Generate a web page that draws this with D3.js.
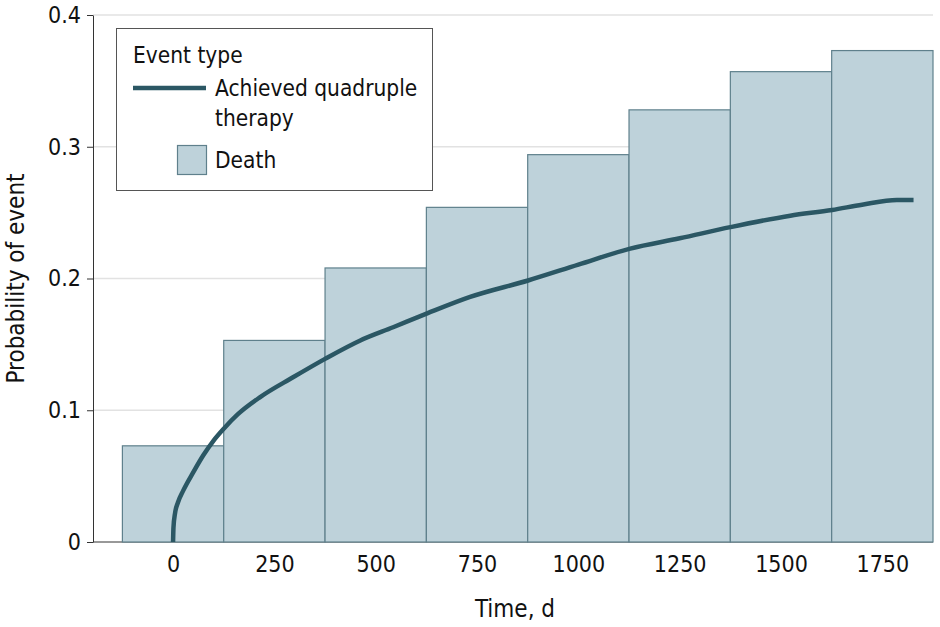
<!DOCTYPE html>
<html>
<head>
<meta charset="utf-8">
<script src="https://cdn.jsdelivr.net/npm/d3@7"></script>
<style>
  body { margin: 0; background: #fff; }
  text { font-family: "DejaVu Sans Condensed", "DejaVu Sans", sans-serif; fill: #111; }
</style>
</head>
<body>
<svg width="940" height="627"></svg>
<script>
// death probability per 250-day bin
const binDays = [0, 250, 500, 750, 1000, 1250, 1500, 1750];
const deathProb = [0.073, 0.153, 0.208, 0.254, 0.294, 0.328, 0.357, 0.373];

// cumulative incidence of quadruple therapy
const lineDays = [0, 1, 5, 12, 25, 50, 75, 100, 125, 160, 215, 296, 375, 462, 543, 627, 733, 876, 1000, 1128, 1250, 1375, 1523, 1626, 1700, 1786, 1827];
const lineProb = [0, 0.011, 0.022, 0.030, 0.039, 0.053, 0.066, 0.077, 0.086, 0.097, 0.110, 0.125, 0.139, 0.153, 0.163, 0.1735, 0.186, 0.1985, 0.2105, 0.2227, 0.2305, 0.239, 0.2477, 0.252, 0.256, 0.2596, 0.2596];

const xTicks = [0, 250, 500, 750, 1000, 1250, 1500, 1750];
const yTicks = [0, 0.1, 0.2, 0.3, 0.4];

const svg = d3.select('svg');
const plotL = 93, plotR = 933, plotT = 15, plotB = 542;

const x = d3.scaleLinear().domain([-200, 1875]).range([plotL - 1, plotR]);
const y = d3.scaleLinear().domain([0, 0.4]).range([plotB, plotT]);
const binW = 250;

// gridlines
svg.append('g').selectAll('line').data(yTicks.slice(1)).join('line')
    .attr('x1', plotL).attr('x2', plotR)
    .attr('y1', d => y(d)).attr('y2', d => y(d))
    .attr('stroke', '#e2e2e2').attr('stroke-width', 1.6);

// bottom axis (line only + labels)
const xAxis = svg.append('g').attr('transform', `translate(0,${plotB})`)
    .call(d3.axisBottom(x).tickValues(xTicks).tickSize(0).tickPadding(14).tickFormat(d3.format('d')));
xAxis.select('.domain').attr('stroke', '#333').attr('d', `M${plotL},0H${plotR}`);
xAxis.selectAll('text').attr('font-size', 23).attr('fill', '#111')
    .style('font-family', '"DejaVu Sans Condensed", sans-serif');

// bars
svg.append('g').selectAll('rect').data(binDays).join('rect')
    .attr('x', d => x(d - binW / 2))
    .attr('width', d => x(d + binW / 2) - x(d - binW / 2))
    .attr('y', (d, i) => y(deathProb[i]))
    .attr('height', (d, i) => y(0) - y(deathProb[i]))
    .attr('fill', '#bed2da').attr('stroke', '#5f808c').attr('stroke-width', 1.2);

// left axis
const yAxis = svg.append('g').attr('transform', `translate(${plotL},0)`)
    .call(d3.axisLeft(y).tickValues(yTicks).tickSize(6).tickSizeOuter(0).tickPadding(6)
        .tickFormat(d => d === 0 ? '0' : d3.format('.1f')(d)));
yAxis.select('.domain').attr('stroke', '#333');
yAxis.selectAll('line').attr('stroke', '#333');
yAxis.selectAll('text').attr('font-size', 23).attr('fill', '#111')
    .style('font-family', '"DejaVu Sans Condensed", sans-serif');

// line
const pts = lineDays.map((d, i) => [d, lineProb[i]]);
svg.append('path').datum(pts)
    .attr('d', d3.line().x(d => x(d[0])).y(d => y(d[1])).curve(d3.curveMonotoneX))
    .attr('fill', 'none').attr('stroke', '#2b5764').attr('stroke-width', 4.5);

// axis titles
svg.append('text').attr('x', (plotL + plotR) / 2 + 2).attr('y', 617)
    .attr('text-anchor', 'middle').attr('font-size', 24).text('Time, d');
svg.append('text').attr('transform', `translate(24,${(plotT + plotB) / 2}) rotate(-90)`)
    .attr('text-anchor', 'middle').attr('font-size', 24).text('Probability of event');

// legend
const lg = svg.append('g');
lg.append('rect').attr('x', 116.5).attr('y', 28.5).attr('width', 316).attr('height', 162)
    .attr('fill', '#fff').attr('stroke', '#555').attr('stroke-width', 1);
lg.append('text').attr('x', 133).attr('y', 63).attr('font-size', 22.5).text('Event type');
lg.append('line').attr('x1', 133).attr('x2', 206).attr('y1', 88).attr('y2', 88)
    .attr('stroke', '#2b5764').attr('stroke-width', 4.5);
lg.append('text').attr('x', 215).attr('y', 96).attr('font-size', 22.5).text('Achieved quadruple');
lg.append('text').attr('x', 215).attr('y', 126).attr('font-size', 22.5).text('therapy');
lg.append('rect').attr('x', 177.5).attr('y', 145.5).attr('width', 29).attr('height', 29)
    .attr('fill', '#bed2da').attr('stroke', '#5f808c').attr('stroke-width', 1.2);
lg.append('text').attr('x', 215).attr('y', 168).attr('font-size', 22.5).text('Death');
</script>
</body>
</html>
